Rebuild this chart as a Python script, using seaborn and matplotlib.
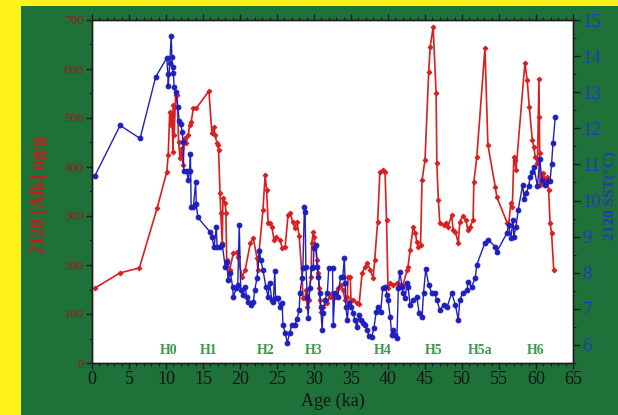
import matplotlib
matplotlib.use("Agg")
import matplotlib.pyplot as plt
from matplotlib.patches import Rectangle
from matplotlib.ticker import MultipleLocator
import seaborn as sns
import pandas as pd

# Core 2120: alkenone concentration (ng/g) versus age (ka)
alk_age = [0.4, 3.8, 6.4, 8.8, 10.1, 10.3, 10.5, 10.65, 10.8, 10.95, 11.0, 11.1, 11.3, 11.5,
           11.7, 11.9, 12.1, 12.3, 12.5, 12.7, 13.0, 13.2, 13.4, 13.7, 14.1, 15.8, 16.2, 16.5,
           16.6, 16.9, 17.0, 17.1, 17.3, 17.4, 17.6, 17.7, 18.0, 18.1, 18.2, 18.6, 19.1, 19.6,
           19.7, 20.3, 20.7, 21.4, 21.8, 22.3, 22.4, 22.6, 23.1, 23.4, 23.6, 23.8, 24.1, 24.3,
           24.6, 24.9, 25.4, 25.7, 26.1, 26.5, 26.8, 27.1, 27.4, 27.7, 28.0, 28.4, 28.5, 28.8,
           28.9, 29.1, 29.3, 29.6, 29.7, 29.9, 30.0, 30.2, 30.4, 30.6, 30.7, 30.8, 31.0, 31.2,
           31.8, 32.1, 32.4, 32.8, 33.2, 33.6, 33.9, 34.2, 34.5, 34.6, 34.9, 35.0, 35.3, 35.8,
           36.1, 36.5, 36.9, 37.2, 37.6, 38.0, 38.2, 38.6, 38.9, 39.3, 39.6, 39.8, 40.0, 40.3,
           40.7, 41.2, 41.6, 42.0, 42.6, 42.7, 43.0, 43.4, 43.7, 43.9, 44.1, 44.4, 44.6, 45.0,
           45.5, 45.7, 46.1, 46.5, 46.6, 46.8, 47.0, 47.5, 47.9, 48.1, 48.6, 48.8, 49.1, 49.5,
           49.7, 50.1, 50.5, 50.8, 51.1, 51.5, 51.6, 52.0, 53.1, 53.5, 54.5, 54.7, 56.1, 56.3,
           56.6, 56.8, 57.0, 57.1, 57.3, 58.5, 58.8, 59.1, 59.5, 59.7, 59.9, 60.2, 60.4, 60.45,
           60.5, 60.55, 60.8, 61.0, 61.3, 61.5, 61.7, 61.9, 62.1, 62.4]
alk_conc = [153, 184, 194, 316, 390, 424, 512, 486, 506, 431, 527, 465, 547, 547,
            451, 418, 439, 404, 459, 449, 465, 486, 492, 520, 520, 555, 469, 482,
            465, 449, 445, 435, 347, 306, 245, 337, 327, 306, 210, 190, 224, 227,
            216, 176, 190, 245, 255, 214, 190, 231, 312, 384, 353, 286, 286, 278,
            251, 257, 251, 235, 237, 302, 306, 288, 276, 288, 259, 173, 133, 133,
            149, 114, 129, 176, 245, 267, 257, 237, 210, 184, 153, 129, 104, 114,
            122, 135, 143, 135, 153, 159, 149, 129, 135, 176, 176, 129, 129, 122,
            120, 184, 196, 204, 190, 173, 210, 288, 390, 394, 390, 292, 153, 163,
            159, 163, 159, 159, 190, 196, 231, 278, 265, 247, 237, 241, 373, 414,
            594, 645, 686, 551, 408, 333, 286, 282, 286, 278, 302, 271, 267, 245,
            288, 300, 292, 271, 278, 292, 369, 420, 643, 445, 359, 339, 286, 282,
            327, 318, 420, 414, 394, 612, 578, 522, 455, 441, 420, 408, 580, 502,
            428, 363, 369, 388, 369, 380, 353, 286, 265, 190]

# Core 2120: alkenone sea-surface temperature (°C) versus age (ka)
sst_age = [0.4, 3.8, 6.5, 8.6, 10.1, 10.25, 10.3, 10.5, 10.7, 10.8, 10.9, 11.0, 11.1, 11.3,
           11.6, 11.8, 12.0, 12.2, 12.3, 12.4, 12.8, 13.0, 13.2, 13.3, 13.4, 13.7, 14.0, 14.1,
           14.3, 15.9, 16.2, 16.5, 16.8, 16.9, 17.3, 17.6, 18.0, 18.2, 18.4, 18.7, 19.0, 19.1,
           19.5, 19.7, 19.9, 20.1, 20.4, 20.7, 20.9, 21.1, 21.5, 21.8, 22.0, 22.3, 22.6, 22.8,
           23.1, 23.5, 23.8, 24.0, 24.3, 24.5, 24.7, 24.8, 25.1, 25.4, 25.7, 25.8, 26.1, 26.4,
           26.7, 27.0, 27.4, 27.7, 28.0, 28.1, 28.4, 28.5, 28.7, 28.8, 28.9, 29.1, 29.2, 29.4,
           29.7, 29.9, 30.0, 30.3, 30.4, 30.6, 30.8, 30.9, 31.1, 31.2, 31.5, 31.8, 32.0, 32.5,
           32.6, 32.8, 33.2, 33.6, 33.9, 34.1, 34.2, 34.3, 34.5, 34.7, 35.0, 35.3, 35.5, 35.8,
           36.1, 36.3, 36.6, 36.9, 37.2, 37.4, 37.8, 38.1, 38.4, 38.6, 39.0, 39.3, 39.6, 39.9,
           40.0, 40.3, 40.5, 40.7, 41.0, 41.2, 41.4, 41.6, 41.9, 42.0, 42.3, 42.6, 42.7, 43.0,
           43.4, 43.9, 44.2, 44.6, 44.8, 45.1, 45.5, 45.9, 46.3, 46.6, 47.0, 47.5, 48.0, 48.6,
           49.1, 49.5, 49.7, 50.1, 50.7, 50.8, 51.3, 51.8, 52.0, 53.1, 53.5, 54.5, 54.7, 56.1,
           56.3, 56.6, 56.9, 57.0, 57.3, 57.6, 58.2, 58.4, 58.7, 59.0, 59.2, 59.5, 59.7, 60.2,
           60.5, 60.8, 61.2, 61.6, 61.9, 62.1, 62.3, 62.6]
sst_temp = [10.69, 12.08, 11.72, 13.42, 13.95, 13.5, 13.17, 13.8, 14.56, 13.97, 13.69, 13.53, 13.14, 13.0,
            12.58, 12.19, 12.11, 11.89, 11.61, 10.81, 10.81, 10.58, 10.81, 11.28, 9.81, 9.81, 10.5, 9.89,
            9.53, 9.14, 9.0, 8.7, 9.28, 8.72, 8.72, 8.78, 8.17, 8.31, 7.8, 8.0, 7.61, 7.33,
            7.58, 7.67, 9.33, 7.53, 7.39, 7.61, 7.33, 7.19, 7.11, 7.19, 7.53, 7.86, 8.61, 8.36,
            8.08, 7.61, 7.33, 7.72, 7.25, 7.19, 8.05, 7.3, 7.3, 7.06, 7.17, 6.56, 6.33, 6.06,
            6.33, 6.56, 6.56, 6.72, 6.97, 7.44, 7.86, 8.14, 9.83, 9.69, 8.17, 7.33, 6.75, 7.58,
            8.14, 8.17, 8.69, 8.78, 8.17, 7.89, 7.44, 7.06, 6.42, 6.89, 7.25, 7.44, 8.14, 8.14,
            6.56, 7.44, 7.33, 7.89, 7.89, 8.42, 7.72, 7.06, 6.69, 7.17, 7.06, 6.89, 6.69, 6.5,
            6.83, 6.69, 6.61, 6.56, 6.42, 6.25, 6.22, 6.47, 6.92, 7.06, 6.92, 7.58, 7.61, 7.39,
            7.25, 6.78, 6.28, 6.42, 6.28, 6.19, 7.58, 8.03, 7.61, 7.44, 7.3, 7.72, 7.61, 7.11,
            7.25, 7.33, 6.89, 6.78, 7.44, 8.1, 7.67, 7.44, 7.44, 7.25, 6.97, 7.11, 7.06, 7.44,
            7.11, 6.69, 7.25, 7.44, 7.53, 7.75, 7.61, 7.86, 8.22, 8.83, 8.92, 8.72, 8.58, 9.11,
            9.33, 8.97, 9.47, 9.0, 9.28, 9.75, 10.44, 10.03, 10.22, 10.39, 10.64, 10.78, 10.94, 10.39,
            11.14, 10.58, 10.44, 10.53, 10.53, 11.0, 11.6, 12.3]

# Heinrich events marked along the bottom of the panel
event_names = ["H0", "H1", "H2", "H3", "H4", "H5", "H5a", "H6"]
event_ages = [10.4, 15.7, 23.5, 29.9, 39.3, 46.1, 52.4, 60.0]

alk_df = pd.DataFrame({"age": alk_age, "alk": alk_conc})
sst_df = pd.DataFrame({"age": sst_age, "sst": sst_temp})

RED = "#d91f1f"
BLUE = "#1f1fbf"
GREEN_BG = "#1e7139"
YELLOW = "#fff21c"

sns.set_style("white")
plt.rcParams["font.family"] = ["Liberation Serif", "DejaVu Serif"]
plt.rcParams["axes.linewidth"] = 1.0

fig = plt.figure(figsize=(6.18, 4.15), dpi=100, facecolor=YELLOW)
fig.patches.append(Rectangle((21 / 618, 0), 1, 409 / 415, transform=fig.transFigure,
                             facecolor=GREEN_BG, edgecolor="none", zorder=0))

ax = fig.add_axes([92 / 618, 52 / 415, 481 / 618, 343 / 415])
ax.set_facecolor("white")
ax2 = ax.twinx()

sns.lineplot(data=alk_df, x="age", y="alk", ax=ax, sort=False, estimator=None,
             color=RED, linewidth=1.2, marker="D", markersize=2.4,
             markeredgecolor=RED, markerfacecolor=RED)
sns.lineplot(data=sst_df, x="age", y="sst", ax=ax2, sort=False, estimator=None,
             color=BLUE, linewidth=1.0, marker="o", markersize=3.4,
             markeredgecolor=BLUE, markerfacecolor=BLUE)

ax.set_xlim(0, 65)
ax.set_ylim(0, 700)
ax2.set_ylim(5.5, 15)

spine_col = "#1c1c1c"
for a in (ax, ax2):
    for s in a.spines.values():
        s.set_color(spine_col)
        s.set_linewidth(1.0)

ax.xaxis.set_major_locator(MultipleLocator(5))
ax.xaxis.set_minor_locator(MultipleLocator(1))
ax.yaxis.set_major_locator(MultipleLocator(100))
ax.yaxis.set_minor_locator(MultipleLocator(50))
ax2.yaxis.set_major_locator(MultipleLocator(1))
ax2.yaxis.set_minor_locator(MultipleLocator(0.5))

ax.tick_params(axis="x", which="both", direction="out", top=True, bottom=True,
               color=spine_col, labelsize=13, labelcolor="#141414", pad=2)
ax.tick_params(axis="x", which="major", length=4, width=1)
ax.tick_params(axis="x", which="minor", length=2.5, width=0.8)
ax.tick_params(axis="y", which="both", direction="out", left=True, color=spine_col,
               labelsize=9.5, labelcolor="#9c1a1a", pad=2)
ax.tick_params(axis="y", which="major", length=4, width=1)
ax.tick_params(axis="y", which="minor", length=2.5, width=0.8)
ax2.tick_params(axis="y", which="both", direction="out", right=True, color=spine_col,
                labelsize=13.5, labelcolor="#1f3cc0", pad=2)
ax2.tick_params(axis="y", which="major", length=5, width=1)
ax2.tick_params(axis="y", which="minor", length=2.5, width=0.8)

ax.set_xlabel("Age (ka)", fontsize=13, color="#141414", labelpad=3)
ax.set_ylabel("")
ax2.set_ylabel("")

fig.text(39 / 618, 1 - 195 / 415, "2120 [Alk] ng/g", rotation=90, ha="center", va="center",
         fontsize=13, fontweight="bold", color="#c21d1d")
fig.text(610.5 / 618, 1 - 196 / 415, "2120 SST(°C)", rotation=90, ha="center", va="center",
         fontsize=11, fontweight="bold", color="#1f3cc0")

for name, age in zip(event_names, event_ages):
    ax.text(age, 0.035, name, transform=ax.get_xaxis_transform(), ha="center", va="center",
            fontsize=10, fontweight="bold", color="#3a9a4a")

ax.set_zorder(1)
ax2.set_zorder(2)
ax2.patch.set_visible(False)

fig.savefig("out.png", dpi=100, facecolor=YELLOW)
